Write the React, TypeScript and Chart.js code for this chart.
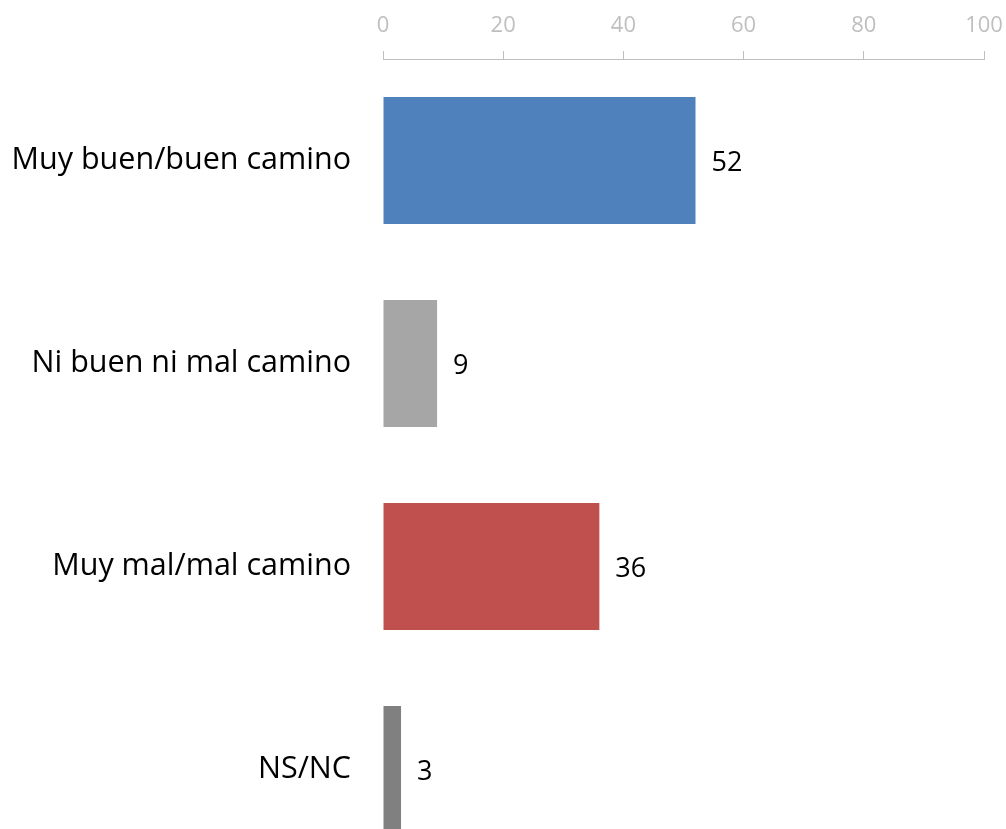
import React, { useEffect, useRef } from "react";
import { Chart, registerables } from "chart.js";

Chart.register(...registerables);

const categories = ["Muy buen/buen camino", "Ni buen ni mal camino", "Muy mal/mal camino", "NS/NC"];
const values = [52, 9, 36, 3];
const barColors = ["#4F81BD", "#A6A6A6", "#C0504D", "#808080"];
const xTicks = [0, 20, 40, 60, 80, 100];

const FONT = "'Open Sans', 'Noto Sans', sans-serif";

const valueLabels = {
  id: "valueLabels",
  afterDatasetsDraw(chart: any) {
    const ctx = chart.ctx;
    const meta = chart.getDatasetMeta(0);
    ctx.save();
    ctx.font = `27px ${FONT}`;
    ctx.fillStyle = "#000000";
    ctx.textAlign = "left";
    ctx.textBaseline = "middle";
    meta.data.forEach((bar: any, i: number) => {
      ctx.fillText(String(values[i]), bar.x + 16, bar.y + 3);
    });
    ctx.restore();
  },
};

export default function App() {
  const ref = useRef<HTMLCanvasElement>(null);
  useEffect(() => {
    if (!ref.current) return;
    const chart = new Chart(ref.current, {
      type: "bar",
      data: {
        labels: categories,
        datasets: [
          {
            data: values,
            backgroundColor: barColors,
            borderWidth: 0,
            categoryPercentage: 1,
            barPercentage: 0.626,
          },
        ],
      },
      options: {
        indexAxis: "y",
        animation: false,
        responsive: false,
        maintainAspectRatio: false,
        layout: { padding: { right: 22, bottom: 9, left: 0, top: 0 } },
        plugins: { legend: { display: false }, tooltip: { enabled: false } },
        scales: {
          x: {
            position: "top",
            min: 0,
            max: 100,
            afterBuildTicks: (scale: any) => {
              scale.ticks = xTicks.map((v) => ({ value: v }));
            },
            afterFit: (scale: any) => {
              scale.height = 59;
              scale.paddingLeft = 0;
              scale.paddingRight = 0;
            },
            grid: {
              display: true,
              drawOnChartArea: false,
              drawTicks: true,
              tickLength: 8,
              color: "#BFBFBF",
              lineWidth: 1,
            },
            border: { display: true, color: "#BFBFBF", width: 1 },
            ticks: {
              color: "#BFBFBF",
              font: { family: FONT, size: 22 },
              padding: 12,
              maxRotation: 0,
            },
          },
          y: {
            afterFit: (scale: any) => {
              scale.width = 383;
              scale.paddingTop = 0;
              scale.paddingBottom = 0;
            },
            grid: { display: false },
            border: { display: false },
            ticks: {
              color: "#000000",
              font: { family: FONT, size: 30.5 },
              padding: 24,
            },
          },
        },
      },
      plugins: [valueLabels],
    });
    return () => chart.destroy();
  }, []);
  return (
    <div style={{ position: "absolute", left: 0, top: 0, width: 1006, height: 829, overflow: "hidden", background: "#fff" }}>
      <canvas ref={ref} width={1006} height={880} style={{ width: 1006, height: 880, display: "block" }} />
    </div>
  );
}
